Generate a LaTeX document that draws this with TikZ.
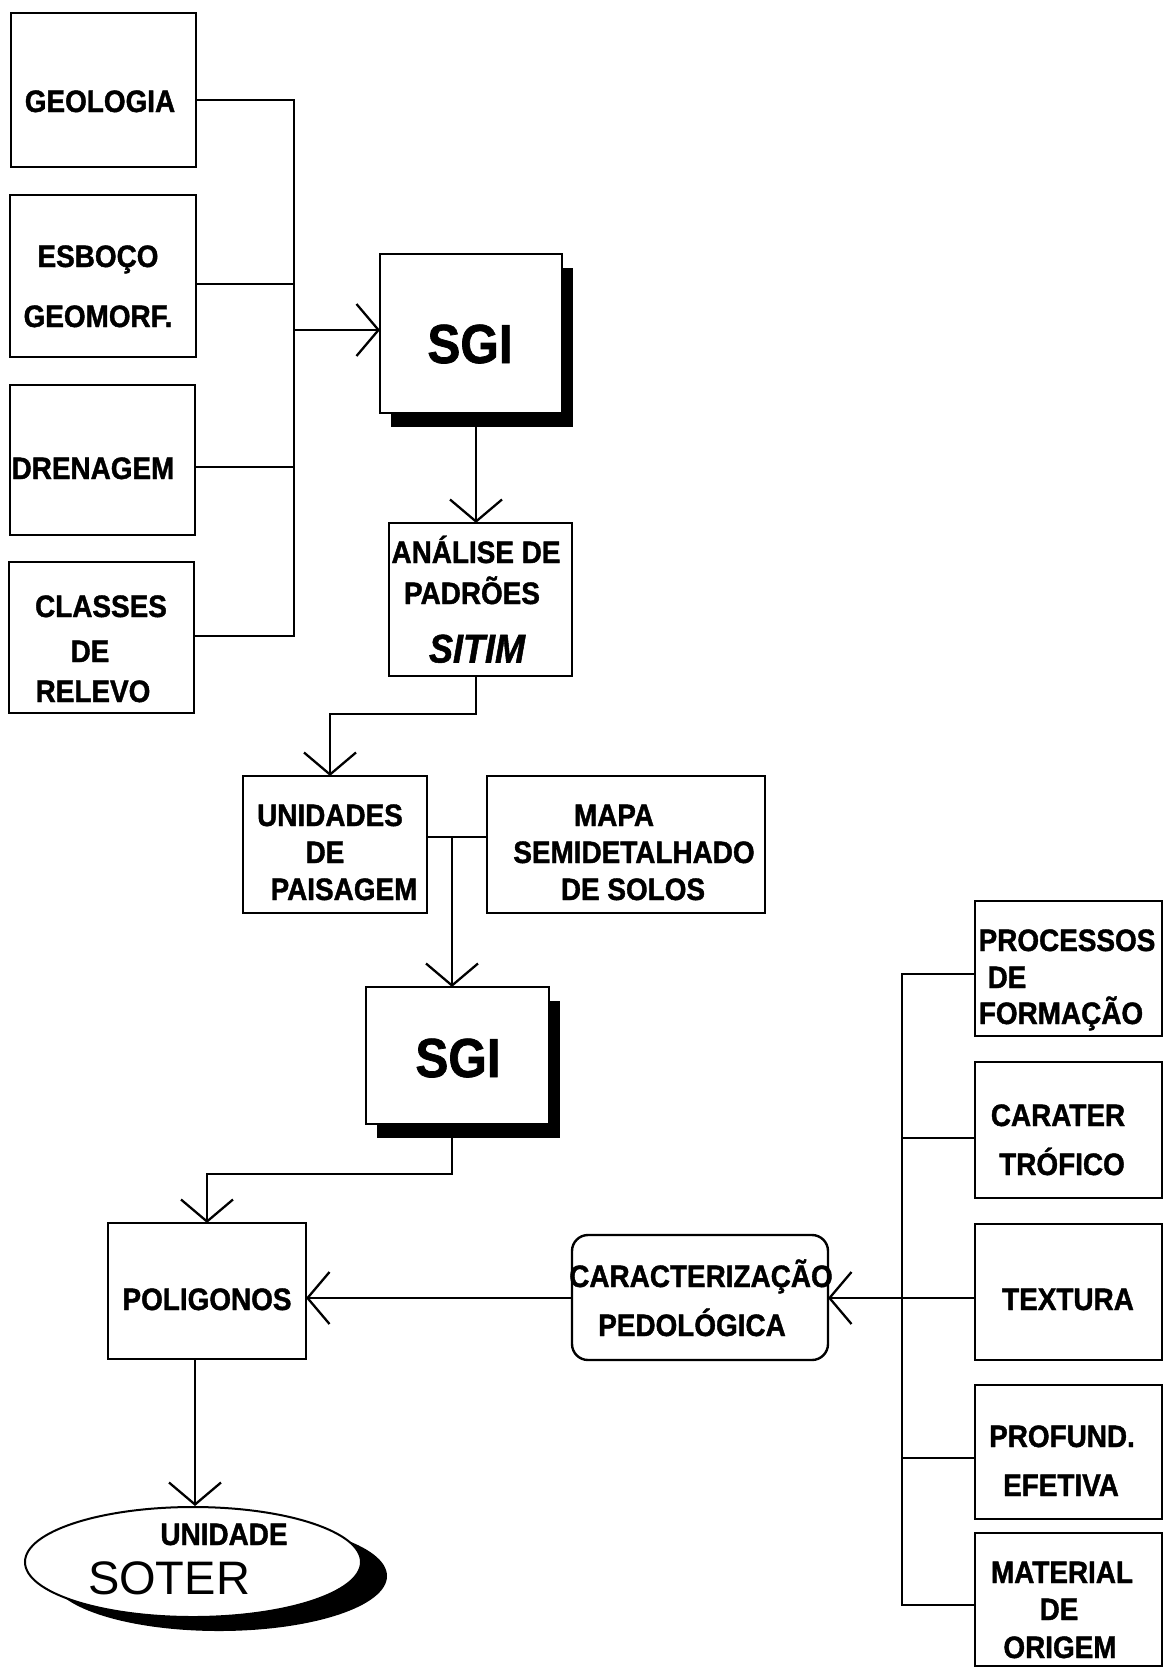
\documentclass[tikz,border=0pt]{standalone}
\usepackage{fontspec}
\setmainfont{Liberation Sans}[FakeStretch=0.9, BoldFeatures={FakeBold=1.3}, BoldItalicFeatures={FakeBold=1.3}]
\newfontfamily\plainsans{Liberation Sans}
\usetikzlibrary{arrows.meta,shapes.geometric,shadows}
\tikzset{
  box/.style={draw, line width=2.4pt, inner sep=0pt, outer sep=0pt, fill=white},
  sgibox/.style={draw, line width=1.4pt, inner sep=0pt, outer sep=0pt, fill=white,
    drop shadow={shadow xshift=11pt, shadow yshift=-14pt, opacity=1, fill=black}},
  wire/.style={line width=2.3pt},
  arr/.style={wire, -{Straight Barb[length=22pt, width=52pt]}},
  txt/.style={inner sep=0pt, font=\fontsize{31}{36}\selectfont\bfseries, text height=22pt, text depth=0pt},
  bigtxt/.style={inner sep=0pt, font=\fontsize{55}{60}\selectfont\bfseries, text height=40pt, text depth=0pt},
}
\begin{document}
\begin{tikzpicture}[x=1pt,y=-1pt]
\fill[white] (0,0) rectangle (1164,1668);
\useasboundingbox (0,0) rectangle (1164,1668);

% left input boxes
\node[box, minimum width=185pt, minimum height=154pt] (geo) at (103.5,90) {};
\node[box, minimum width=186pt, minimum height=162pt] (esb) at (103,276) {};
\node[box, minimum width=185pt, minimum height=150pt] (dre) at (102.5,460) {};
\node[box, minimum width=185pt, minimum height=151pt] (cla) at (101.5,637.5) {};

% SGI 1
\node[sgibox, minimum width=182pt, minimum height=159pt] (sgi1) at (471,333.5) {};
% analysis
\node[box, minimum width=183pt, minimum height=153pt] (ana) at (480.5,599.5) {};
% landscape units & map
\node[box, minimum width=184pt, minimum height=137pt] (uni) at (335,844.5) {};
\node[box, minimum width=278pt, minimum height=137pt] (mapa) at (626,844.5) {};
% SGI 2
\node[sgibox, minimum width=183pt, minimum height=137pt] (sgi2) at (457.5,1055.5) {};
% polygons
\node[box, minimum width=198pt, minimum height=136pt] (pol) at (207,1291) {};
% pedological characterisation
\node[box, rounded corners=16pt, minimum width=256pt, minimum height=125pt] (car) at (700,1297.5) {};
% right boxes
\node[box, minimum width=187pt, minimum height=135pt] (pro) at (1068.5,968.5) {};
\node[box, minimum width=187pt, minimum height=136pt] (ct) at (1068.5,1130) {};
\node[box, minimum width=187pt, minimum height=136pt] (tex) at (1068.5,1292) {};
\node[box, minimum width=187pt, minimum height=134pt] (pf) at (1068.5,1452) {};
\node[box, minimum width=187pt, minimum height=133pt] (mat) at (1068.5,1599.5) {};
% SOTER ellipse
\node[ellipse, draw, line width=2pt, fill=white, inner sep=0pt, minimum width=336pt, minimum height=110pt,
  drop shadow={shadow xshift=26pt, shadow yshift=-14pt, opacity=1, fill=black}] (sot) at (193,1562) {};

% texts
\node[txt] (t1) at (100,101) {GEOLOGIA};
\node[txt] (t2) at (98,256) {ESBOÇO};
\node[txt] (t3) at (98,316) {GEOMORF.};
\node[txt] (t4) at (93,468) {DRENAGEM};
\node[txt] (t5) at (101,606) {CLASSES};
\node[txt] (t6) at (90,651) {DE};
\node[txt] (t7) at (93,691) {RELEVO};
\node[bigtxt] (t8) at (470,343) {SGI};
\node[txt] (t9) at (476,552) {ANÁLISE DE};
\node[txt] (t10) at (472,593) {PADRÕES};
\node[inner sep=0pt, font=\fontsize{40}{46}\selectfont\bfseries\itshape, text height=29pt, text depth=0pt] (t11) at (477,648) {SITIM};
\node[txt] (t12) at (330,815) {UNIDADES};
\node[txt] (t13) at (325,852) {DE};
\node[txt] (t14) at (344,889) {PAISAGEM};
\node[txt] (t15) at (614,815) {MAPA};
\node[txt] (t16) at (634,852) {SEMIDETALHADO};
\node[txt] (t17) at (633,889) {DE SOLOS};
\node[bigtxt] (t18) at (458,1057) {SGI};
\node[txt] (t19) at (207,1299) {POLIGONOS};
\node[txt] (t20) at (701,1276) {CARACTERIZAÇÃO};
\node[txt] (t21) at (692,1325) {PEDOLÓGICA};
\node[txt] (t22) at (1067,940) {PROCESSOS};
\node[txt] (t23) at (1007,977) {DE};
\node[txt] (t24) at (1061,1013) {FORMAÇÃO};
\node[txt] (t25) at (1058,1115) {CARATER};
\node[txt] (t26) at (1062,1164) {TRÓFICO};
\node[txt] (t27) at (1068,1299) {TEXTURA};
\node[txt] (t28) at (1062,1436) {PROFUND.};
\node[txt] (t29) at (1061,1485) {EFETIVA};
\node[txt] (t30) at (1062,1572) {MATERIAL};
\node[txt] (t31) at (1059,1609) {DE};
\node[txt] (t32) at (1060,1647) {ORIGEM};
\node[txt] (t33) at (224,1534) {UNIDADE};
\node[inner sep=0pt, font=\plainsans\fontsize{47}{52}\selectfont, text height=34pt, text depth=0pt] (t34) at (169,1577) {SOTER};

% left bus
\coordinate (bA) at (294,100);
\coordinate (bB) at (294,284);
\coordinate (bS) at (294,330);
\coordinate (bC) at (294,467);
\coordinate (bD) at (294,636);
\draw[wire] (geo.east |- bA) -- (bA) -- (bD) -- (cla.east |- bD);
\draw[wire] (esb.east |- bB) -- (bB);
\draw[wire] (dre.east |- bC) -- (bC);
\draw[arr] (bS) -- (sgi1.west |- bS);

% SGI1 -> analysis
\coordinate (s1x) at (476,0);
\draw[arr] (sgi1.south -| s1x) -- (ana.north -| s1x);

% analysis -> units
\coordinate (k1) at (476,714);
\coordinate (k2) at (330,714);
\draw[arr] (ana.south -| k1) -- (k1) -- (k2) -- (uni.north -| k2);

% units + map -> SGI2
\coordinate (j) at (452,837);
\draw[wire] (uni.east |- j) -- (mapa.west |- j);
\draw[arr] (j) -- (sgi2.north -| j);

% SGI2 -> polygons
\coordinate (k3) at (452,1174);
\coordinate (k4) at (207,1174);
\draw[arr] (sgi2.south -| k3) -- (k3) -- (k4) -- (pol.north -| k4);

% characterisation -> polygons
\coordinate (m) at (0,1298);
\draw[arr] (car.west |- m) -- (pol.east |- m);
\draw[arr] (tex.west |- m) -- (car.east |- m);

% right bus
\coordinate (r1) at (902,974);
\coordinate (r2) at (902,1138);
\coordinate (r4) at (902,1458);
\coordinate (r5) at (902,1605);
\draw[wire] (pro.west |- r1) -- (r1) -- (r5) -- (mat.west |- r5);
\draw[wire] (ct.west |- r2) -- (r2);
\draw[wire] (pf.west |- r4) -- (r4);

% polygons -> SOTER
\coordinate (p1) at (195,0);
\draw[arr] (pol.south -| p1) -- (sot.north -| p1);
\end{tikzpicture}
\end{document}
